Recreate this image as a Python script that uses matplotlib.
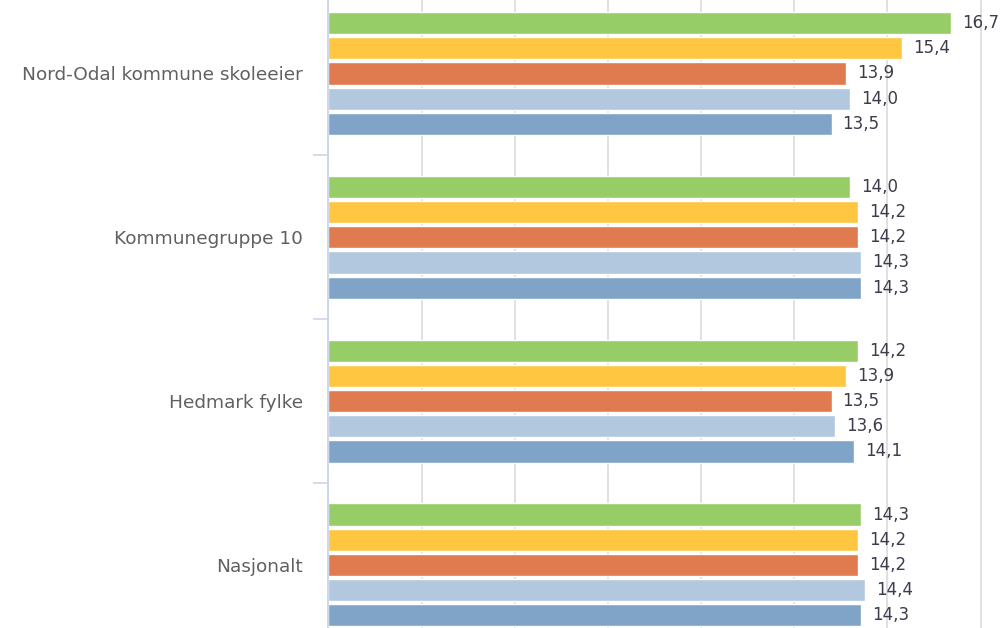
import matplotlib
matplotlib.use('Agg')
import matplotlib.pyplot as plt
import numpy as np

# Kategorier og verdier (lest fra figuren)
CATEGORIES = ['Nord-Odal kommune skoleeier', 'Kommunegruppe 10',
              'Hedmark fylke', 'Nasjonalt']
SERIES_COLORS = ['#97cd67', '#fec641', '#df7b4f', '#b2c8de', '#80a4c8']
SERIES_VALUES = [
    [16.7, 14.0, 14.2, 14.3],   # grønn
    [15.4, 14.2, 13.9, 14.2],   # gul
    [13.9, 14.2, 13.5, 14.2],   # oransje
    [14.0, 14.3, 13.6, 14.4],   # lys blå
    [13.5, 14.3, 14.1, 14.3],   # blå
]
X_TICKS = np.arange(0, 17.6, 2.5)

W, H = 1004, 628
fig = plt.figure(figsize=(W / 100, H / 100), dpi=100)
ax_left = 328.5 / W
ax = fig.add_axes([ax_left, 0, 1 - ax_left, 1])

pitch = 0.1538
bar_h = 0.136
centers = np.arange(len(CATEGORIES))
n = len(SERIES_VALUES)
for i, (vals, col) in enumerate(zip(SERIES_VALUES, SERIES_COLORS)):
    y = centers + (i - (n - 1) / 2) * pitch
    ax.barh(y, vals, height=bar_h, color=col, edgecolor='white',
            linewidth=1, zorder=3)
    for yy, v in zip(y, vals):
        ax.annotate(f'{v:.1f}'.replace('.', ','), xy=(v, yy),
                    xytext=(8, 0), textcoords='offset points',
                    ha='left', va='center', fontsize=12,
                    color='#3c3c4c', zorder=4)

ax.set_xlim(0, (W - 328.5) / 37.26)
ax.set_ylim((H - 73.5) / 163.8, -73.5 / 163.8)

ax.set_xticks(X_TICKS)
ax.set_xticklabels([])
ax.tick_params(axis='x', length=0)
ax.grid(True, axis='x', color='#dddddd', linewidth=1.3, zorder=0)

ax.set_yticks(centers)
ax.set_yticklabels(CATEGORIES, fontsize=13.3, color='#606060')
ax.tick_params(axis='y', which='major', length=0, pad=18.5)
ax.set_yticks(centers[:-1] + 0.5, minor=True)
ax.tick_params(axis='y', which='minor', length=10.8, width=1.2,
               color='#ccd6eb')

for s in ['top', 'right', 'bottom']:
    ax.spines[s].set_visible(False)
ax.spines['left'].set_color('#ccd6eb')
ax.spines['left'].set_linewidth(1.3)
ax.spines['left'].set_zorder(5)

fig.savefig('out.png', dpi=100)
